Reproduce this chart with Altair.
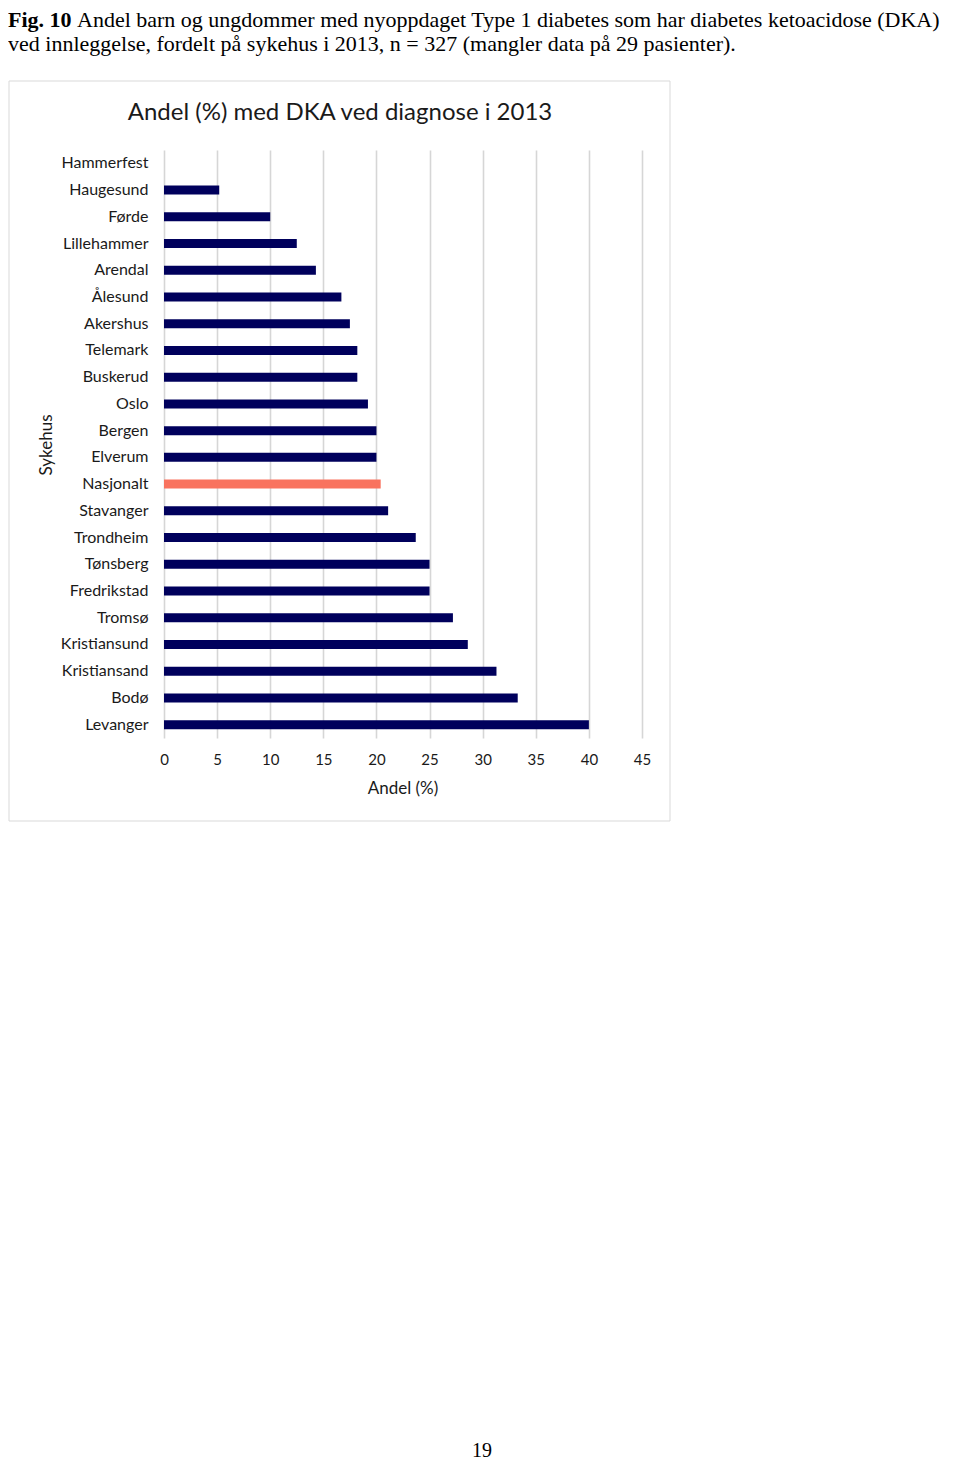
import altair as alt
import pandas as pd

# ---- data ----
sykehus = ["Hammerfest", "Haugesund", "Førde", "Lillehammer", "Arendal", "Ålesund",
           "Akershus", "Telemark", "Buskerud", "Oslo", "Bergen", "Elverum",
           "Nasjonalt", "Stavanger", "Trondheim", "Tønsberg", "Fredrikstad",
           "Tromsø", "Kristiansund", "Kristiansand", "Bodø", "Levanger"]
andel = [0.0, 5.2, 10.0, 12.5, 14.3, 16.7, 17.5, 18.2, 18.2, 19.2, 20.0, 20.0,
         20.4, 21.1, 23.7, 25.0, 25.0, 27.2, 28.6, 31.3, 33.3, 40.0]
x_ticks = [0, 5, 10, 15, 20, 25, 30, 35, 40, 45]

chart_title = "Andel (%) med DKA ved diagnose i 2013"
x_title = "Andel (%)"
y_title = "Sykehus"
caption_bold = "Fig. 10"
caption_line1 = "Andel barn og ungdommer med nyoppdaget Type 1 diabetes som har diabetes ketoacidose (DKA)"
caption_line2 = "ved innleggelse, fordelt på sykehus i 2013, n = 327 (mangler data på 29 pasienter)."
page_number = "19"

df = pd.DataFrame({"sykehus": sykehus, "andel": andel})

NAVY = "#00005C"
SALMON = "#F9735F"
FONT = "Lato"
SERIF = "Liberation Serif"

# plot-area origin at page (164, 150)
OX, OY = 164, 150
W, H = 478, 588
TOTAL_W, TOTAL_H = 944, 1453

bars = alt.Chart(df).mark_bar(size=9).encode(
    x=alt.X("andel:Q",
            scale=alt.Scale(domain=[0, 45], nice=False),
            axis=alt.Axis(values=x_ticks, title=None, grid=True, gridColor="#d6d6d6",
                          gridWidth=1.6, domain=False, ticks=False, labelFont=FONT,
                          labelFontSize=15, labelColor="#1a1a1a", labelPadding=14,
                          labelFlush=False)),
    y=alt.Y("sykehus:N", sort=sykehus,
            scale=alt.Scale(paddingInner=0.67, paddingOuter=0.335),
            axis=alt.Axis(title=None, domain=False, ticks=False, labelFont=FONT,
                          labelFontSize=16, labelColor="#1a1a1a", labelPadding=16)),
    color=alt.condition(alt.datum.sykehus == "Nasjonalt", alt.value(SALMON), alt.value(NAVY)),
)

def txt(text, px, py, size, font=FONT, weight="normal", align="left", angle=0,
        baseline="alphabetic", color="#1a1a1a"):
    kw = dict(text=text, font=font, fontSize=size, fontWeight=weight, align=align,
              baseline=baseline, color=color)
    if angle:
        kw["angle"] = angle
    return alt.Chart().mark_text(**kw).encode(
        x=alt.value(px - OX), y=alt.value(py - OY))

border = alt.Chart().mark_rect(filled=False, stroke="#d9d9d9", strokeWidth=1).encode(
    x=alt.value(9 - OX), x2=alt.value(670 - OX),
    y=alt.value(81 - OY), y2=alt.value(821 - OY))

layers = [
    border,
    bars,
    txt(chart_title, 340, 120, 24, align="center"),
    txt(x_title, 403, 794, 17, align="center"),
    txt(y_title, 52, 445, 17, align="center", angle=270),
    txt(caption_bold, 8, 27, 22, font=SERIF, weight="bold", color="black"),
    txt(caption_line1, 77, 27, 22, font=SERIF, color="black"),
    txt(caption_line2, 8, 51, 22, font=SERIF, color="black"),
    txt(page_number, 482, 1457, 20, font=SERIF, align="center", color="black"),
]

chart = alt.layer(*layers).properties(
    width=W, height=H,
    background="white",
    autosize=alt.AutoSizeParams(type="none"),
    padding={"left": OX - 8, "top": OY - 8, "right": TOTAL_W - (OX - 8) - W,
             "bottom": TOTAL_H - (OY - 8) - H},
).configure_view(stroke=None)

chart.save("out.html", embed_options={"renderer": "svg", "actions": False})
